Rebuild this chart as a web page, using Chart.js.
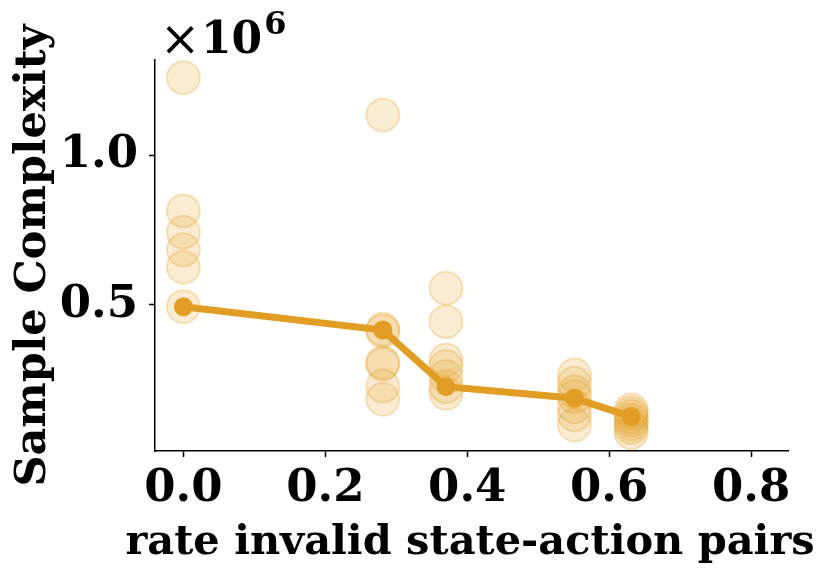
<!DOCTYPE html>
<html>
<head>
<meta charset="utf-8">
<script src="https://cdn.jsdelivr.net/npm/chart.js@4.4.1/dist/chart.umd.min.js"></script>
<style>
  html, body { margin: 0; padding: 0; background: #ffffff; }
  #wrap { width: 831px; height: 577px; }
</style>
</head>
<body>
<div id="wrap"><canvas id="c" width="831" height="577"></canvas></div>
<script>
// ---- data ----
const rates = [0.0, 0.281, 0.370, 0.551, 0.631];
const samplesRate0 = [1259000, 814000, 743000, 684000, 626000, 494000];
const samplesRate1 = [1134000, 419000, 412000, 307000, 302000, 229000, 185000];
const samplesRate2 = [556000, 444000, 316000, 294000, 261000, 227000, 205000];
const samplesRate3 = [266000, 238000, 210000, 194000, 160000, 133000, 99000];
const samplesRate4 = [149000, 138000, 127000, 115000, 102000, 90000, 73000];
const medianSamples = [494000, 416000, 227000, 188000, 127000];
const xTicks = [0.0, 0.2, 0.4, 0.6, 0.8];
const yTicks = [500000, 1000000];
const xTitle = 'rate invalid state-action pairs';
const yTitle = 'Sample Complexity';

const COLOR = 'rgb(226,158,36)';
const FONT = '"DejaVu Serif", "Liberation Serif", serif';

const clusters = [samplesRate0, samplesRate1, samplesRate2, samplesRate3, samplesRate4];
const scatterPts = [];
clusters.forEach((arr, i) => arr.forEach(v => scatterPts.push({ x: rates[i], y: v })));
const medianPts = rates.map((r, i) => ({ x: r, y: medianSamples[i] }));

const textPlugin = {
  id: 'texts',
  afterDraw(chart) {
    const ctx = chart.ctx;
    ctx.save();
    ctx.fillStyle = '#000';
    ctx.textBaseline = 'alphabetic';
    // exponent label
    ctx.textAlign = 'left';
    ctx.font = '48px ' + FONT;
    ctx.fillText('\u00d7', 160, 55);
    ctx.font = 'bold 44px ' + FONT;
    ctx.fillText('10', 201, 53);
    const w = ctx.measureText('10').width;
    ctx.font = 'bold 32px ' + FONT;
    ctx.fillText('6', 201 + w + 2, 34);
    // x axis title
    ctx.font = 'bold 40px ' + FONT;
    const tw = ctx.measureText(xTitle).width;
    const size = Math.min(48, 40 * 690 / tw);
    ctx.font = 'bold ' + size.toFixed(1) + 'px ' + FONT;
    ctx.textAlign = 'center';
    ctx.fillText(xTitle, 470, 554);
    ctx.restore();
  }
};

new Chart(document.getElementById('c'), {
  type: 'scatter',
  data: {
    datasets: [
      {
        type: 'line',
        data: medianPts,
        borderColor: COLOR,
        backgroundColor: COLOR,
        borderWidth: 7,
        pointRadius: 9.5,
        pointHoverRadius: 9.5,
        pointBorderWidth: 0,
        fill: false,
        tension: 0,
        order: 0
      },
      {
        data: scatterPts,
        backgroundColor: 'rgba(226,158,36,0.2)',
        borderColor: 'rgba(226,158,36,0.28)',
        borderWidth: 2,
        pointRadius: 16.5,
        pointHoverRadius: 16.5,
        order: 1
      }
    ]
  },
  options: {
    responsive: false,
    animation: false,
    devicePixelRatio: 1,
    layout: { padding: { top: 60, right: 43, left: 0, bottom: 0 } },
    plugins: { legend: { display: false }, tooltip: { enabled: false } },
    scales: {
      x: {
        type: 'linear',
        min: -0.04,
        max: 0.852,
        afterBuildTicks(scale) { scale.ticks = xTicks.map(v => ({ value: v })); },
        ticks: {
          color: '#000',
          font: { family: FONT, size: 45, weight: 'bold' },
          padding: 5,
          maxRotation: 0,
          callback: v => v.toFixed(1)
        },
        grid: { drawOnChartArea: false, drawTicks: true, tickLength: 6, color: '#000', tickWidth: 1.5 },
        border: { display: true, color: '#000', width: 1.5 },
        title: { display: false },
        afterFit(scale) { scale.height = 126; }
      },
      y: {
        type: 'linear',
        min: 12000,
        max: 1318000,
        afterBuildTicks(scale) { scale.ticks = yTicks.map(v => ({ value: v })); },
        ticks: {
          color: '#000',
          font: { family: FONT, size: 45, weight: 'bold' },
          padding: 11,
          callback: v => (v / 1e6).toFixed(1)
        },
        grid: { drawOnChartArea: false, drawTicks: true, tickLength: 6, color: '#000', tickWidth: 1.5 },
        border: { display: true, color: '#000', width: 1.5 },
        title: {
          display: true,
          text: yTitle,
          color: '#000',
          font: { family: FONT, size: 43, weight: 'bold' },
          padding: { top: 8, bottom: 0 }
        },
        afterFit(scale) { scale.width = 155; }
      }
    }
  },
  plugins: [textPlugin]
});
</script>
</body>
</html>
